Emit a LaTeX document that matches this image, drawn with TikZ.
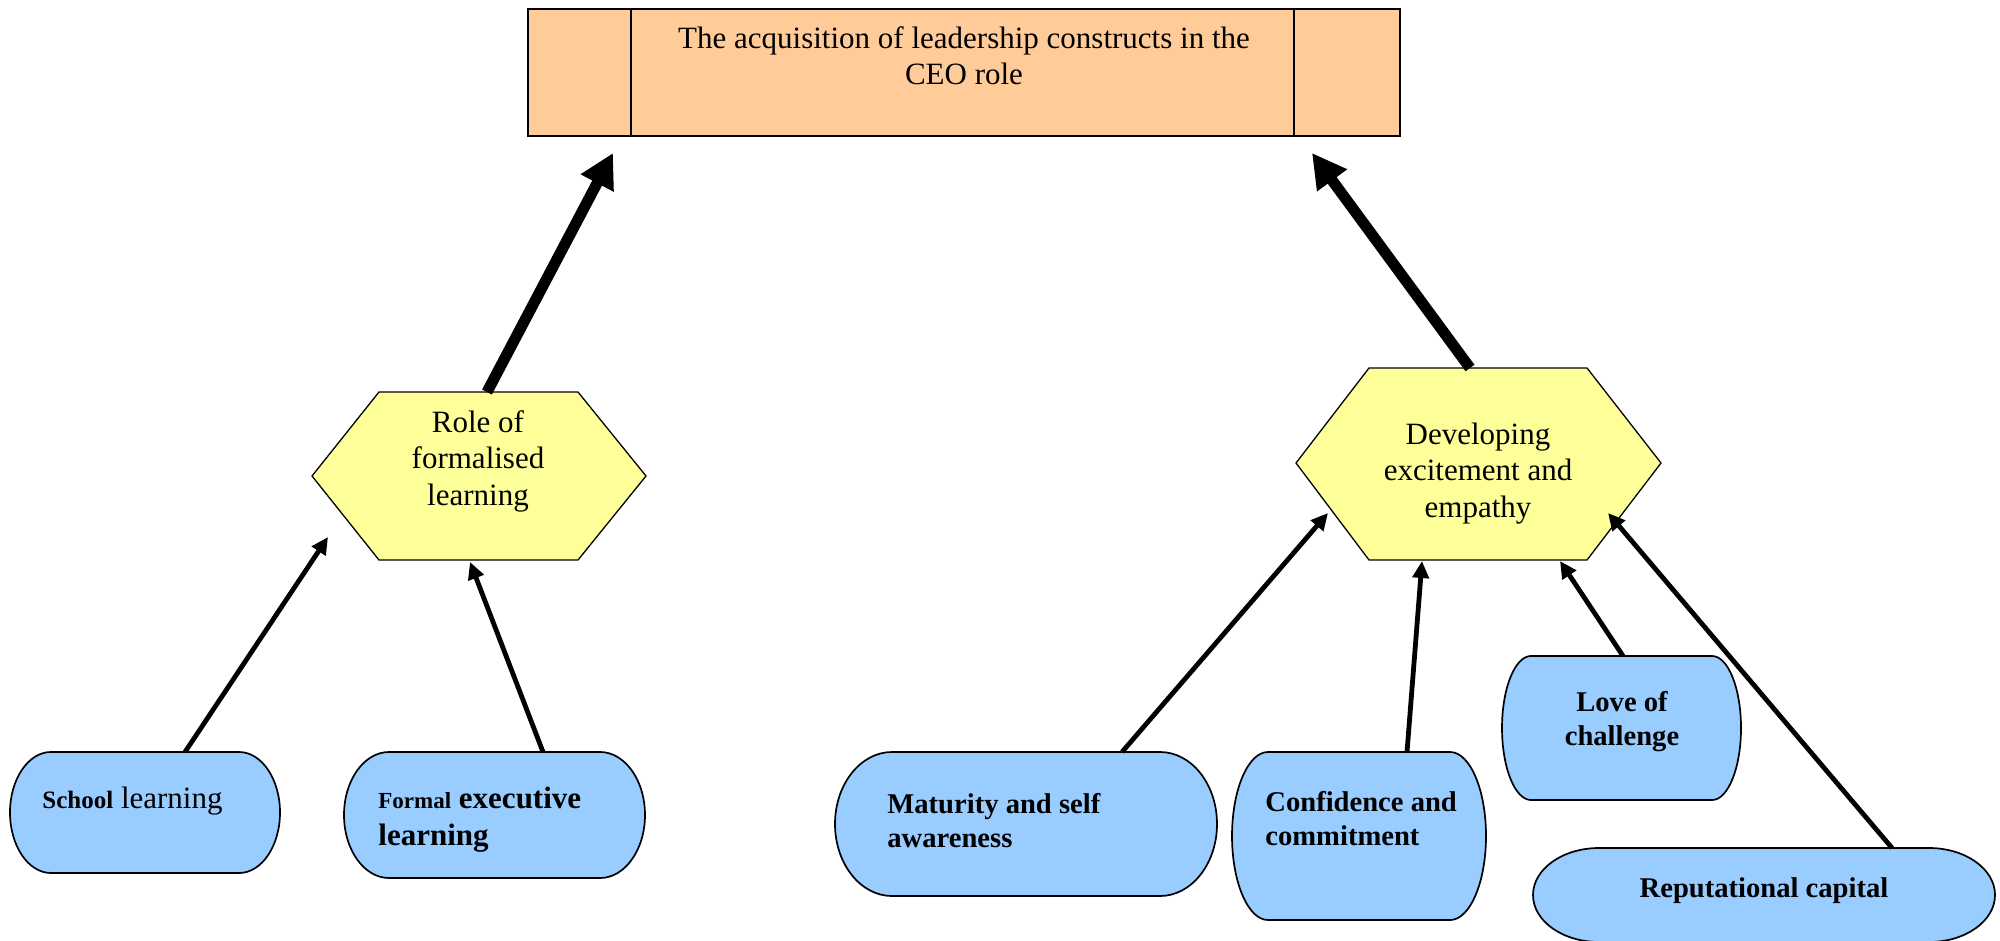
\documentclass[tikz,border=0pt]{standalone}
\usepackage{fontspec}
\setmainfont{Liberation Serif}
\usetikzlibrary{arrows.meta,calc}
\definecolor{peach}{HTML}{FFCC99}
\definecolor{hexyellow}{HTML}{FFFF99}
\definecolor{skyblue}{HTML}{99CCFF}
\newcommand\capshape[6]{%
  \pgfmathsetmacro\capb{(#5-#3)/2}%
  \pgfmathsetmacro\capw{(#4-#2)/2}%
  \draw[capsule] ({#2+#6},-#3) -- ({#4-#6},-#3)
    arc[start angle=90,end angle=-90,x radius=#6,y radius=\capb]
    -- ({#2+#6},-#5)
    arc[start angle=270,end angle=90,x radius=#6,y radius=\capb] -- cycle;
  \node[anchorbox,anchor=north west,minimum width=\capw pt,minimum height=\capb pt] (#1) at (#2,-#3) {};
}
\newcommand\hexshape[8]{%
  \pgfmathsetmacro\hexw{(#5-#2)/2}%
  \pgfmathsetmacro\hexh{(#8-#6)/2}%
  \draw[hexa] (#2,-#7) -- (#3,-#6) -- (#4,-#6) -- (#5,-#7) -- (#4,-#8) -- (#3,-#8) -- cycle;
  \node[anchorbox,minimum width=\hexw pt,minimum height=\hexh pt] (#1) at ({(#2+#5)/2},{-(#6+#8)/2}) {};
}
\begin{document}
\begin{tikzpicture}[x=0.5pt,y=0.5pt,
  capsule/.style={draw=black,line width=0.85pt,fill=skyblue},
  hexa/.style={draw=black,line width=0.65pt,fill=hexyellow,line join=miter},
  goalbox/.style={draw=black,line width=0.8pt,fill=peach,inner sep=0pt},
  anchorbox/.style={inner sep=0pt,outer sep=0pt},
  regtext/.style={font=\fontsize{15.5}{18.25}\selectfont,inner sep=0pt,align=center},
  boldtext/.style={font=\bfseries\fontsize{14.3}{17}\selectfont,inner sep=0pt},
  bigarrow/.style={line width=5.5pt,-{Triangle[length=17pt,width=17.5pt]}},
  smallarrow/.style={line width=2.4pt,-{Triangle[length=8.5pt,width=8pt]}}]
\useasboundingbox (0,0) rectangle (2000,-941);

% goal box
\node[goalbox,minimum width=436pt,minimum height=63.5pt] (goal) at (964,-72.5) {};
\draw[line width=0.8pt] ($(goal.north west)+(104,0)$) -- ($(goal.south west)+(104,0)$);
\draw[line width=0.8pt] ($(goal.north east)+(-107,0)$) -- ($(goal.south east)+(-107,0)$);
\node[regtext,anchor=base] (goaltext) at (964,-85) {The acquisition of leadership constructs in the\\CEO role};

% hexagons
\hexshape{hexL}{312}{379}{578}{646}{392}{476}{560}
\hexshape{hexR}{1296}{1369}{1587}{1661}{368}{463}{560}
\node[regtext,anchor=base] (hexLtext) at (478,-505) {Role of\\formalised\\learning};
\node[regtext,anchor=base] (hexRtext) at (1478,-517) {Developing\\excitement and\\empathy};

% blue capsules
\capshape{school}{10}{752}{280}{873}{41}
\capshape{formal}{344}{752}{645}{878}{45}
\capshape{maturity}{835}{752}{1217}{896}{57}
\capshape{confidence}{1232}{752}{1486}{920}{36}
\capshape{love}{1502}{656}{1741}{800}{29}
\capshape{reput}{1533}{848}{1995}{942}{66}

\node[anchor=base west,inner sep=0pt,font=\fontsize{15.5}{18}\selectfont] (schooltext) at (42,-808)
  {{\bfseries\fontsize{12.5}{15}\selectfont School} learning};
\node[anchor=base west,inner sep=0pt,align=left,font=\bfseries\fontsize{15.5}{18.5}\selectfont] (formaltext) at (378,-845)
  {{\fontsize{11.5}{14}\selectfont Formal} executive\\learning};
\node[boldtext,anchor=base west,align=left] (maturitytext) at (887,-847) {Maturity and self\\awareness};
\node[boldtext,anchor=base west,align=left] (confidencetext) at (1265,-845) {Confidence and\\commitment};
\node[boldtext,anchor=base,align=center] (lovetext) at (1622,-745) {Love of\\challenge};
\node[boldtext,anchor=base] (reputtext) at (1764,-897) {Reputational capital};

% tips
\coordinate (tipL) at (613,-153);
\coordinate (tipR) at (1312,-153);
\coordinate (tipSchool) at (328,-537);
\coordinate (tipFormal) at (470,-562);
\coordinate (tipMaturity) at (1328,-513);
\coordinate (tipConfidence) at (1422,-561);
\coordinate (tipLove) at (1560,-561);
\coordinate (tipReput) at (1608,-513);

% connectors
\draw[bigarrow] ($(hexL.north)+(8,0)$) -- (tipL);
\draw[bigarrow] ($(hexR.north)+(-8.5,0)$) -- (tipR);
\draw[smallarrow] ($(school.north west)+(175,0)$) -- (tipSchool);
\draw[smallarrow] ($(formal.north west)+(199,0)$) -- (tipFormal);
\draw[smallarrow] ($(maturity.north west)+(287,0)$) -- (tipMaturity);
\draw[smallarrow] ($(confidence.north west)+(175,0)$) -- (tipConfidence);
\draw[smallarrow] ($(love.north west)+(121,0)$) -- (tipLove);
\draw[smallarrow] ($(reput.north west)+(359,0)$) -- (tipReput);
\end{tikzpicture}
\end{document}
